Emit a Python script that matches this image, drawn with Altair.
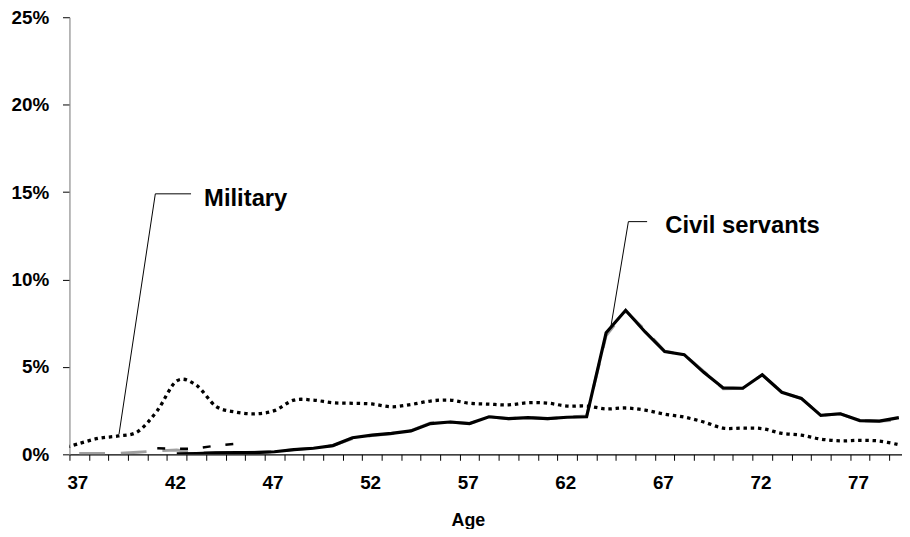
import altair as alt
import pandas as pd

FONT = "Liberation Sans"

# ---- data (percent) ----
military_ages = list(range(36, 80))
military = [0.30, 0.62, 0.92, 1.05, 1.30, 2.50, 4.20, 3.95, 2.75, 2.42,
            2.32, 2.50, 3.10, 3.10, 2.95, 2.92, 2.88, 2.72, 2.85, 3.05,
            3.10, 2.92, 2.87, 2.83, 2.95, 2.93, 2.76, 2.76, 2.60, 2.65,
            2.53, 2.30, 2.13, 1.85, 1.50, 1.50, 1.47, 1.20, 1.10, 0.87,
            0.77, 0.80, 0.76, 0.55]

civil_ages = list(range(42, 80))
civil = [0.03, 0.05, 0.08, 0.10, 0.10, 0.15, 0.27, 0.35, 0.50, 0.95,
         1.10, 1.20, 1.34, 1.76, 1.85, 1.76, 2.15, 2.04, 2.10, 2.04,
         2.12, 2.15, 6.95, 8.24, 7.00, 5.88, 5.70, 4.69, 3.80, 3.78,
         4.55, 3.55, 3.20, 2.23, 2.32, 1.93, 1.90, 2.10]

gray_ages = list(range(37, 80))
gray = [0.05, 0.05, 0.05, 0.12, 0.20,
        0.25, 0.08, 0.10, 0.10, 0.12, 0.15, 0.27, 0.36, 0.50, 0.90,
        1.08, 1.18, 1.36, 1.80, 1.85, 1.76, 2.15, 2.04, 2.10, 2.04,
        2.12, 2.20, 6.80, 8.20, 7.10, 5.90, 5.70, 4.75, 3.75, 3.78,
        4.55, 3.55, 3.20, 2.23, 2.32, 1.93, 1.90, 1.95]

dash_ages = list(range(41, 46))
dash = [0.35, 0.32, 0.33, 0.50, 0.60]

tick_ages = list(range(37, 80))
y_ticks = [0, 5, 10, 15, 20, 25]

# annotation leaders (age, percent) and labels
mil_leader_age = [39.04, 40.9, 42.73]
mil_leader_val = [1.16, 14.9, 14.9]
civ_leader_age = [64.25, 65.14, 66.1]
civ_leader_val = [7.35, 13.31, 13.31]
label_text = ["Military", "Civil servants"]
label_age = [43.4, 67.03]
label_val = [14.22, 12.65]

# ---- frames ----
df_mil = pd.DataFrame({"age": military_ages, "value": military})
df_civ = pd.DataFrame({"age": civil_ages, "value": civil})
df_gray = pd.DataFrame({"age": gray_ages, "value": gray})
df_dash = pd.DataFrame({"age": dash_ages, "value": dash})
df_lead = pd.DataFrame({
    "age": mil_leader_age + civ_leader_age,
    "value": mil_leader_val + civ_leader_val,
    "grp": ["m"] * 3 + ["c"] * 3,
    "ord": [0, 1, 2] * 2,
})
df_lab = pd.DataFrame({"label": label_text, "age": label_age, "value": label_val})

X = alt.X(
    "age:Q",
    scale=alt.Scale(domain=[36.5, 79.16], nice=False, zero=False),
    axis=alt.Axis(
        values=tick_ages,
        labelExpr="(datum.value - 37) % 5 == 0 ? datum.value : ''",
        tickOffset=-9.85, labelOffset=8, labelFlush=False, labelOverlap=False,
        tickSize=6, tickColor="black", domainColor="black", domainWidth=1.2,
        tickWidth=1, labelFont=FONT, labelFontWeight="bold", labelFontSize=19,
        labelColor="black", labelPadding=13, grid=False,
        title="Age", titleFont=FONT, titleFontWeight="bold", titleFontSize=18,
        titleColor="black", titleX=402, titleY=72, titleBaseline="alphabetic",
        titleAlign="center",
    ),
)
Y = alt.Y(
    "value:Q",
    scale=alt.Scale(domain=[0, 25], nice=False),
    axis=alt.Axis(
        values=y_ticks, labelExpr="datum.value + '%'", tickSize=7,
        tickColor="black", domainColor="#8a8a8a", domainWidth=1.2,
        labelFont=FONT, labelFontWeight="bold", labelFontSize=19,
        labelColor="black", labelPadding=14, grid=False, title=None,
    ),
)

gray_line = alt.Chart(df_gray).mark_line(
    color="#a0a0a0", strokeWidth=3, strokeDash=[26, 16], clip=True
).encode(x=X, y=Y)

dash_line = alt.Chart(df_dash).mark_line(
    color="black", strokeWidth=2.5, strokeDash=[8, 15], clip=True
).encode(x=X, y=Y)

mil_line = alt.Chart(df_mil).mark_line(
    color="black", strokeWidth=3.3, strokeDash=[3.5, 3.8], strokeCap="butt",
    interpolate="cardinal", clip=True
).encode(x=X, y=Y)

civ_line = alt.Chart(df_civ).mark_line(
    color="black", strokeWidth=3.2, strokeJoin="miter", clip=True
).encode(x=X, y=Y)

leaders = alt.Chart(df_lead).mark_line(color="black", strokeWidth=1).encode(
    x=X, y=Y, detail="grp:N", order="ord:Q"
)

labels = alt.Chart(df_lab).mark_text(
    align="left", baseline="alphabetic", font=FONT, fontWeight="bold",
    fontSize=24, color="black"
).encode(x=X, y=Y, text="label:N")

chart = alt.layer(gray_line, dash_line, mil_line, civ_line, leaders, labels).properties(
    width=840, height=441,
    autosize=alt.AutoSizeParams(type="none"),
    padding={"left": 62, "top": 7, "right": 0, "bottom": 73},
    background="white",
).configure_view(stroke=None)

chart.save("out.html", embed_options={"renderer": "svg", "actions": False})
